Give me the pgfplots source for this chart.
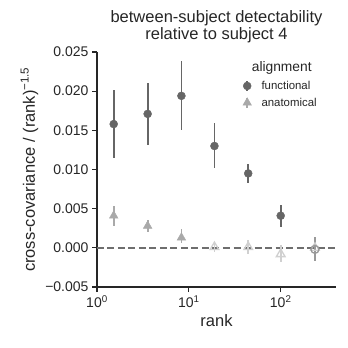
\documentclass[border=0pt]{standalone}
\usepackage{fontspec}
\setmainfont{Liberation Sans}
\usepackage{pgfplots}
\pgfplotsset{compat=1.18}
\definecolor{txt}{HTML}{262626}
\definecolor{func}{HTML}{666666}
\definecolor{funcns}{HTML}{999999}
\definecolor{anat}{HTML}{A9A9A9}
\definecolor{anatns}{HTML}{D0D0D0}

\pgfplotstableread{
x y ep em
1.52 0.0158 0.0043 0.0043
3.56 0.0171 0.0040 0.0040
8.3 0.0194 0.0045 0.0044
19.0 0.0130 0.0029 0.0028
44.3 0.0095 0.0012 0.0012
100 0.0041 0.0014 0.0014
}\funcsig
\pgfplotstableread{
x y ep em
236 -0.0002 0.0016 0.0015
}\funcns
\pgfplotstableread{
x y ep em
1.52 0.0041 0.0013 0.0013
3.56 0.0028 0.0008 0.0008
8.3 0.0013 0.0011 0.0007
}\anatsig
\pgfplotstableread{
x y ep em
19.0 0.0001 0.0007 0.0006
44.3 0.0001 0.0009 0.0009
100 -0.0008 0.0011 0.0010
236 0.0000 0.0008 0.0008
}\anatns

\begin{document}
\begin{tikzpicture}
\path[use as bounding box] (-97pt,-61pt) rectangle (251pt,287pt);
\begin{axis}[
  scale only axis, width=239pt, height=235pt,
  xmode=log, xmin=1, xmax=400,
  ymin=-0.005, ymax=0.025,
  axis lines=left, axis line style={-, txt, line width=1.2pt},
  tick align=outside, major tick length=5pt,
  tick style={txt, line width=1.2pt},
  minor tick num=0, minor x tick style={draw=none},
  xtick={1,10,100}, xticklabels={10\textsuperscript{0},10\textsuperscript{1},10\textsuperscript{2}},
  scaled y ticks=false,
  ytick={-0.005,0,0.005,0.01,0.015,0.02,0.025},
  yticklabels={−0.005,0.000,0.005,0.010,0.015,0.020,0.025},
  ticklabel style={font=\fontsize{14}{16}\selectfont, text=txt},
  xlabel={rank}, ylabel={cross-covariance / (rank)\textsuperscript{−1.5}},
  label style={font=\fontsize{16.5}{19}\selectfont, text=txt},
  title={between-subject detectability\\relative to subject 4},
  title style={font=\fontsize{16.5}{17}\selectfont, text=txt, align=center},
  clip=false,
  error bars/y dir=both, error bars/y explicit,
  error bars/error mark=none,
  legend cell align=left,
  legend image code/.code={
    \draw[#1, line width=1.8pt, mark=none] (0.3cm,-5pt) -- (0.3cm,5pt);
    \draw[#1] plot coordinates {(0.3cm,0cm)};
  },
  legend style={at={(axis description cs:0.597,0.89)}, anchor=north west, draw=none, fill=none,
    font=\fontsize{11.4}{13}\selectfont, text=txt, row sep=5pt, column sep=9pt,
    nodes={inner sep=1pt, text depth=1pt}},
]
\addplot[color=func!95, line width=1.5pt, dash pattern=on 7pt off 3.5pt, forget plot] coordinates {(1,0) (400,0)};
\addplot[only marks, mark=*, mark size=4pt, color=func,
  error bars/error bar style={line width=1.8pt, color=func}]
  table[x=x, y=y, y error plus=ep, y error minus=em] {\funcsig};
\addlegendentry{functional}
\addplot[only marks, mark=triangle*, mark size=5pt, color=anat,
  error bars/error bar style={line width=1.8pt, color=anat}]
  table[x=x, y=y, y error plus=ep, y error minus=em] {\anatsig};
\addlegendentry{anatomical}
\addplot[only marks, mark=triangle, mark size=5pt, color=anatns, mark options={line width=1.3pt}, forget plot,
  error bars/error bar style={line width=1.8pt, color=anatns}]
  table[x=x, y=y, y error plus=ep, y error minus=em] {\anatns};
\addplot[only marks, mark=o, mark size=4pt, color=funcns, mark options={line width=1.3pt}, forget plot,
  error bars/error bar style={line width=1.8pt, color=funcns}]
  table[x=x, y=y, y error plus=ep, y error minus=em] {\funcns};
\node[font=\fontsize{13.8}{16}\selectfont, text=txt] at (axis description cs:0.773,0.932) {alignment};
\end{axis}
\end{tikzpicture}
\end{document}
